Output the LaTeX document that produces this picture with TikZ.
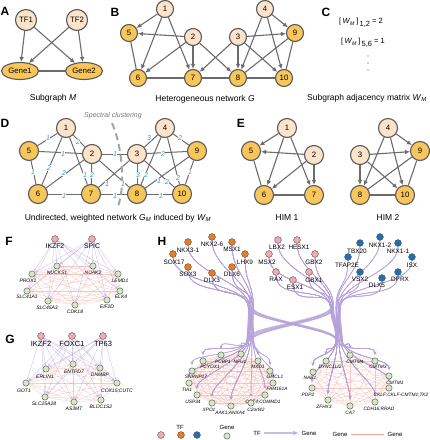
\documentclass[tikz,border=0pt]{standalone}
\usepackage{fontspec}
\setmainfont{Liberation Sans}
\usetikzlibrary{arrows.meta,shapes.geometric,calc}
\definecolor{tfc}{HTML}{FCE3C9}
\definecolor{genec}{HTML}{F8C65A}
\definecolor{edgec}{HTML}{6B6B6B}
\definecolor{bordc}{HTML}{5A5A5A}
\definecolor{wlab}{HTML}{2A9AD8}
\definecolor{pinktf}{HTML}{F3ACAB}
\definecolor{orangetf}{HTML}{EE7B1F}
\definecolor{bluetf}{HTML}{1E6FB5}
\definecolor{genegreen}{HTML}{D3E9C4}
\definecolor{lav}{HTML}{B5A0DA}
\definecolor{pinkedge}{HTML}{F2A69A}
\pgfdeclarelayer{bg}
\pgfsetlayers{bg,main}
\newcommand{\fsz}[1]{\fontsize{#1}{#1}\selectfont}
\newcommand{\bund}[4]{%
  \coordinate (ha) at ($(#3)!0.07!(#1)$);
  \coordinate (hb) at ($(#4)!0.08!(#2)$);
  \draw[hbund] (#1) .. controls ($(#1)+(0,30)$) and ($(ha)+(0,-25)$) .. (ha)
     .. controls ($(ha)+(0,12)$) and ($(hb)+(0,-12)$) .. (hb)
     .. controls ($(hb)+(0,18)$) and ($(#2)+(0,-18)$) .. (#2);}
\begin{document}
\begin{tikzpicture}[x=1pt,y=-1pt,
  nd/.style={circle,draw=bordc,line width=1.1pt,inner sep=0pt,font=\fsz{7.8}},
  tfn/.style={nd,fill=tfc},
  gnn/.style={nd,fill=genec},
  arr/.style={draw=edgec,line width=1.1pt,-{Latex[length=5pt,width=4.6pt]}},
  und/.style={draw=edgec,line width=1.1pt},
  plab/.style={font=\bfseries\fsz{12},inner sep=0pt},
  captxt/.style={font=\fsz{8.5},inner sep=0pt},
  wl/.style={font=\itshape\fsz{7},text=wlab,fill=white,inner sep=0.4pt},
  sn/.style={circle,draw=black!70,line width=0.4pt,inner sep=0pt,minimum size=6.8pt},
  ptf/.style={sn,fill=pinktf},
  otf/.style={sn,fill=orangetf},
  btf/.style={sn,fill=bluetf},
  gc/.style={sn,fill=genegreen,minimum size=6.3pt},
  hlab/.style={font=\fsz{6.4},inner sep=0pt},
  glab/.style={font=\itshape\fsz{4.8},inner sep=0pt},
  lavarr/.style={draw=lav,line width=0.45pt,opacity=0.55,-{Stealth[length=2.8pt,width=2.4pt]}},
  hbund/.style={draw=lav,line width=0.45pt,opacity=0.35,shorten >=3.1pt,-{Stealth[length=3pt,width=2.6pt]}},
  pinkln/.style={draw=pinkedge,line width=0.35pt,opacity=0.6},
]
\useasboundingbox (0,0) rectangle (430,440);

% ---------------- A
\node[plab] (labA) at (5,11) {A};
\node[tfn,minimum size=21pt] (tf1) at (26,20) {TF1};
\node[tfn,minimum size=21pt] (tf2) at (77,20) {TF2};
\node[gnn,ellipse,minimum width=37pt,minimum height=17pt] (ge1) at (20,71) {Gene1};
\node[gnn,ellipse,minimum width=37pt,minimum height=17pt] (ge2) at (84,71) {Gene2};
\draw[arr] (tf1) -- (ge1);
\draw[arr] (tf1) -- (ge2);
\draw[arr] (tf2) -- (ge1);
\draw[arr] (tf2) -- (ge2);
\draw[und] (ge1) -- (ge2);
\node[captxt] (capA) at (53,98) {Subgraph \textit{M}};

% ---------------- B
\node[plab] (labB) at (115,12) {B};
\begin{scope}[every node/.append style={minimum size=17pt}]
\node[tfn] (b1) at (165,9) {1};
\node[gnn] (b5) at (129,33) {5};
\node[tfn] (b2) at (193,37) {2};
\node[tfn] (b3) at (238,37) {3};
\node[tfn] (b4) at (265,9) {4};
\node[gnn] (b9) at (295,33) {9};
\node[gnn] (b6) at (138,78) {6};
\node[gnn] (b7) at (193,78) {7};
\node[gnn] (b8) at (238,78) {8};
\node[gnn] (b10) at (284,78) {10};
\end{scope}
\foreach \a/\b in {b1/b5,b1/b6,b1/b7,b2/b5,b2/b6,b2/b7,b2/b8,b3/b7,b3/b8,b3/b9,b3/b10,b4/b8,b4/b9,b4/b10}
  \draw[arr] (\a) -- (\b);
\foreach \a/\b in {b5/b6,b6/b7,b7/b8,b8/b10,b9/b10,b9/b8}
  \draw[und] (\a) -- (\b);
\node[captxt] (capB) at (205,99) {Heterogeneous network \textit{G}};

% ---------------- C
\node[plab] (labC) at (326,12) {C};
\node[font=\fsz{7.5},anchor=west,inner sep=0pt] (c1) at (339,23) {[\,\textit{W}\textsubscript{\textit{M}}\,]\raisebox{-2.5pt}{\,1,2} = 2};
\node[font=\fsz{7.5},anchor=west,inner sep=0pt] (c2) at (341,43) {[\,\textit{W}\textsubscript{\textit{M}}\,]\raisebox{-2.5pt}{\,5,6} = 1};
\fill[black!75] (368,56) circle (0.7pt) (368,63) circle (0.7pt) (368,70) circle (0.7pt);
\node[captxt] (capC) at (367,98) {Subgraph adjacency matrix \textit{W}\textsubscript{\textit{M}}};

% ---------------- D
\node[plab] (labD) at (5,123) {D};
\begin{scope}[every node/.append style={minimum size=19pt}]
\node[tfn] (d1) at (66,128) {1};
\node[gnn] (d5) at (29,151) {5};
\node[tfn] (d2) at (92,154) {2};
\node[tfn] (d3) at (137,154) {3};
\node[tfn] (d4) at (165,128) {4};
\node[gnn] (d9) at (197,151) {9};
\node[gnn] (d6) at (38,194) {6};
\node[gnn] (d7) at (91,194) {7};
\node[gnn] (d8) at (137,194) {8};
\node[gnn] (d10) at (182,194) {10};
\end{scope}
\foreach \a/\b in {d1/d5,d1/d2,d1/d6,d1/d7,d5/d2,d5/d6,d2/d6,d2/d7,d2/d3,d2/d8,d3/d7,d6/d7,d7/d8,d8/d10,d3/d8,d4/d8,d3/d4,d4/d9,d3/d9,d3/d10,d4/d10,d9/d8,d9/d10}
  \draw[und,line width=1pt] (\a) -- (\b);
\coordinate (sc1) at (112,123);
\coordinate (sc2) at (121,143);
\coordinate (sc3) at (127,185);
\coordinate (sc4) at (117,209);
\draw[black!35,line width=2pt,dash pattern=on 7pt off 4pt] (sc1) .. controls (sc2) and (sc3) .. (sc4);
\node[font=\itshape\fsz{7},text=black!55,inner sep=0pt] (spc) at (113,116) {Spectral clustering};
\foreach \x/\y/\w [count=\i] in {48/138/1, 78/142/2, 49/168/2, 85/175/1, 63/154/1, 33/172/1, 64/173/2, 92/175/2, 115/154/1, 123/184/1, 107/184/1, 64/196/1, 115/196/1, 161/196/1, 138/175/3, 146/175/2, 149/138/3, 180/138/2, 163/154/2, 167/182/2, 178/178/2, 159/181/1, 190/172/1}
  \node[wl] (w\i) at (\x,\y) {\w};
\node[captxt] (capD) at (118,218) {Undirected, weighted network \textit{G}\textsubscript{\textit{M}} induced by \textit{W}\textsubscript{\textit{M}}};

% ---------------- E
\node[plab] (labE) at (241,123) {E};
\begin{scope}[every node/.append style={minimum size=19pt}]
\node[tfn] (e1) at (287,128) {1};
\node[gnn] (e5) at (251,151) {5};
\node[tfn] (e2) at (314,155) {2};
\node[gnn] (e6) at (264,195) {6};
\node[gnn] (e7) at (314,195) {7};
\node[tfn] (e4) at (388,128) {4};
\node[tfn] (e3) at (360,155) {3};
\node[gnn] (e9) at (420,151) {9};
\node[gnn] (e8) at (360,195) {8};
\node[gnn] (e10) at (405,195) {10};
\end{scope}
\foreach \a/\b in {e1/e5,e1/e6,e1/e7,e2/e5,e2/e6,e2/e7,e4/e9,e4/e8,e4/e10,e3/e9,e3/e8,e3/e10}
  \draw[arr] (\a) -- (\b);
\foreach \a/\b in {e5/e6,e6/e7,e9/e8,e9/e10,e8/e10}
  \draw[und] (\a) -- (\b);
\node[captxt] (capE1) at (287,218) {HIM 1};
\node[captxt] (capE2) at (388,218) {HIM 2};

% ---------------- F
\node[plab] (labF) at (9,241) {F};
\node[ptf] (ft1) at (55,239) {};
\node[hlab,font=\fsz{6.8}] (ft1l) at (55,246) {IKZF2};
\node[ptf] (ft2) at (92,239) {};
\node[hlab,font=\fsz{6.8}] (ft2l) at (92,246) {SPIC};
\foreach \n/\x/\y/\lx/\ly/\t in {f1/57/266/57/273/NUCKS1, f2/93/266/93/273/NUAK2, f3/32/274/28/281/PROX1, f4/118/274/120/281/LEMD1, f5/27/291/27/297/SLC41A1, f6/120/291/121/297/ELK4, f7/48/301/47/308/SLC45A3, f8/75/305/75/312/CDK18, f9/107/300/107/307/EIF2D}
  {\node[gc] (\n) at (\x,\y) {}; \node[glab,font=\itshape\fsz{5}] (\n-l) at (\lx,\ly) {\t};}

% ---------------- G
\node[plab] (labG) at (10,339) {G};
\foreach \n/\x/\t in {gt1/41/IKZF2, gt2/72/FOXC1, gt3/103/TP63}
  {\node[ptf] (\n) at (\x,336) {}; \node[hlab,font=\fsz{7.5}] (\n-l) at (\x,344) {\t};}
\foreach \n/\x/\y/\lx/\ly/\t in {g1/73/364/74/372/ENTPD7, g2/46/369/45/377/ERLIN1, g3/100/368/100/375/DNMBP, g4/26/383/24/391/GOT1, g5/117/383/117/391/COX15;CUTC, g6/45/397/44/404/SLC25A28, g7/74/402/74/409/AS3MT, g8/101/400/101/407/BLOC1S2}
  {\node[gc] (\n) at (\x,\y) {}; \node[glab,font=\itshape\fsz{5}] (\n-l) at (\lx,\ly) {\t};}

% ---------------- H
\node[plab] (labH) at (162,241) {H};
\foreach \n/\x/\y/\lx/\ly/\t in {o1/188/242/188/250/NKX3-1, o2/212/237/212/244/NKX2-6, o3/232/242/232/249/MSX1, o4/245/254/245/262/LHX9, o5/173/254/174/262/SOX17, o6/188/267/188/274/SOX3, o7/212/273/212/280/DLX3, o8/232/267/232/274/DLX6}
  {\node[otf] (\n) at (\x,\y) {}; \node[hlab] (\n-l) at (\lx,\ly) {\t};}
\foreach \n/\x/\y/\lx/\ly/\t in {p1/278/240/277/247/LBX2, p2/297/240/299/247/HESX1, p3/269/254/267/262/MSX2, p4/315/254/314/262/GBX2, p5/276/272/276/279/RAX, p6/309/272/314/280/GBX1, p7/293/280/295/287/ESX1}
  {\node[ptf] (\n) at (\x,\y) {}; \node[hlab] (\n-l) at (\lx,\ly) {\t};}
\foreach \n/\x/\y/\lx/\ly/\t in {u1/380/237/380/245/NKX1-2, u2/398/243/398/251/NKX1-1, u3/360/243/357/251/TBX20, u4/348/257/347/265/TFAP2E, u5/412/257/412/265/ISX, u6/360/272/360/279/VSX2, u7/382/278/377/285/DLX5, u8/398/272/400/279/DPRX}
  {\node[btf] (\n) at (\x,\y) {}; \node[hlab] (\n-l) at (\lx,\ly) {\t};}
\foreach \n/\x/\y/\lx/\ly/\t in {L1/221/355/223/362/PCBP1, L2/241/354/240/362/NFU1, L3/203/361/210/367/PCYOX1, L4/258/361/258/367/MXD1, L5/192/371/196/377/SNRNP27, L6/270/371/275/377/GMCL1, L7/189/383/187/390/TIA1, L8/273/383/277/389/FAM161A, L9/197/395/193/402/USP34, L10/265/395/263/402/CCT4;COMMD1, L11/212/403/209/410/XPO1, L12/231/406/230/413/AAK1;ANXA4, L13/251/403/256/410/C2orf42}
  {\node[gc] (\n) at (\x,\y) {}; \node[glab] (\n-l) at (\lx,\ly) {\t};}
\foreach \n/\x/\y/\lx/\ly/\t in {R1/326/361/330/367/DYNC1LI2, R2/350/355/355/362/CMTM4, R3/375/361/378/367/CMTM3, R4/313/372/310/378/NAE1, R5/389/376/395/383/CMTM1, R6/312/388/308/395/PDP2, R7/389/388/401/395/CKLF;CKLF-CMTM1;TK2, R8/328/400/324/407/ZFHX3, R9/350/406/350/413/CA7, R10/375/402/379/409/CDH16;RRAD}
  {\node[gc] (\n) at (\x,\y) {}; \node[glab] (\n-l) at (\lx,\ly) {\t};}
\coordinate (hL1) at (254,312);
\coordinate (hL2) at (252,336);
\coordinate (hR1) at (335,312);
\coordinate (hR2) at (338,336);

% ---------------- legend
\node[hlab,font=\fsz{6}] (legtf) at (180,427) {TF};
\node[ptf] (legp) at (161,435) {};
\node[otf] (lego) at (181,435) {};
\node[btf] (legb) at (197,435) {};
\node[hlab,font=\fsz{6}] (leggene) at (227,427) {Gene};
\node[gc] (legg) at (227,436) {};
\node[hlab,font=\fsz{6}] (legtf2) at (257,433) {TF};
\node[hlab,font=\fsz{6}] (leggene2) at (309,433) {Gene};
\draw[draw=lav,line width=1.8pt,opacity=0.7,-{Stealth[length=6pt,width=5pt]},shorten <=3pt,shorten >=3pt] (legtf2) -- (leggene2);
\node[hlab,font=\fsz{6}] (leggene3) at (340,434) {Gene};
\node[hlab,font=\fsz{6}] (leggene4) at (395,434) {Gene};
\draw[draw=pinkedge,line width=0.8pt,shorten <=3pt,shorten >=3pt] (leggene3) -- (leggene4);

% ---------------- background edges of F, G, H
\begin{pgfonlayer}{bg}
\foreach \i in {1,...,8} {
  \pgfmathtruncatemacro\k{\i+1}
  \foreach \j in {\k,...,9} \draw[pinkln] (f\i) -- (f\j);
}
\foreach \t in {ft1,ft2} \foreach \g in {f1,f2,f3,f4,f5,f6,f7,f8,f9} \draw[lavarr] (\t) -- (\g);
\foreach \i in {1,...,7} {
  \pgfmathtruncatemacro\k{\i+1}
  \foreach \j in {\k,...,8} \draw[pinkln] (g\i) -- (g\j);
}
\foreach \t in {gt1,gt2,gt3} \foreach \g in {g1,g2,g3,g4,g5,g6,g7,g8} \draw[lavarr] (\t) -- (\g);
\foreach \i in {1,...,12} {
  \pgfmathtruncatemacro\k{\i+1}
  \foreach \j in {\k,...,13} \draw[pinkln] (L\i) -- (L\j);
}
\foreach \i in {1,...,9} {
  \pgfmathtruncatemacro\k{\i+1}
  \foreach \j in {\k,...,10} \draw[pinkln] (R\i) -- (R\j);
}
\foreach \t in {o1,o2,o3,o4,o5,o6,o7,o8} \foreach \g in {L1,L2,L3,L4,L5,L6,L7,L8,L9,L10,L11,L12,L13}
  {\bund{\t}{\g}{hL1}{hL2}}
\foreach \t in {u1,u2,u3,u4,u5,u6,u7,u8,p1,p2,p3,p4,p5,p6,p7} \foreach \g in {R1,R2,R3,R4,R5,R6,R7,R8,R9,R10}
  {\bund{\t}{\g}{hR1}{hR2}}
\foreach \t in {p1,p2,p3,p4,p5,p6,p7} \foreach \g in {L3,L7,L9,L11,L12}
  {\bund{\t}{\g}{hR1}{hL2}}
\foreach \t in {o1,o2,o3,o4,o5,o6,o7,o8} \foreach \g in {R4,R6,R8,R9}
  {\bund{\t}{\g}{hL1}{hR2}}
\end{pgfonlayer}
\end{tikzpicture}
\end{document}
